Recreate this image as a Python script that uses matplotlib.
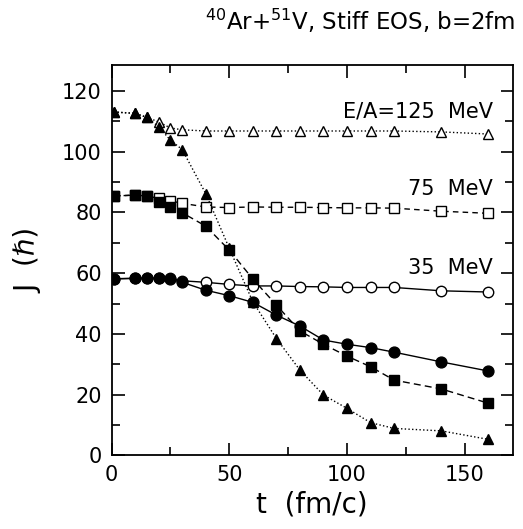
import matplotlib
matplotlib.use("Agg")
import matplotlib.pyplot as plt
from matplotlib.ticker import MultipleLocator

plt.rcParams['font.family'] = ['DejaVu Sans']

t = [1, 10, 15, 20, 25, 30, 40, 50, 60, 70, 80, 90, 100, 110, 120, 140, 160]

# 35 MeV
j35_open = [58.2, 58.3, 58.3, 58.3, 58.3, 57.5, 57.0, 56.3, 55.8, 55.8, 55.6, 55.5, 55.3, 55.3, 55.3, 54.2, 53.8]
j35_fill = [58.1, 58.3, 58.3, 58.3, 58.0, 57.0, 54.4, 52.6, 50.4, 46.2, 42.6, 38.0, 36.6, 35.5, 34.0, 30.8, 27.8]
# 75 MeV
j75_open = [85.4, 85.7, 85.5, 84.6, 83.8, 83.0, 81.8, 81.6, 81.8, 81.7, 81.7, 81.6, 81.5, 81.5, 81.4, 80.4, 79.7]
j75_fill = [85.4, 85.7, 85.4, 83.3, 81.8, 79.9, 75.5, 67.6, 58.1, 49.5, 41.0, 36.6, 32.7, 29.2, 24.8, 21.9, 17.2]
# 125 MeV
j125_open = [113.0, 112.6, 111.3, 109.8, 107.8, 107.2, 106.8, 106.8, 106.8, 106.8, 106.8, 106.8, 106.8, 106.8, 106.8, 106.5, 105.8]
j125_fill = [113.1, 112.6, 111.3, 108.2, 103.8, 100.7, 86.2, 68.2, 50.6, 38.5, 28.1, 19.9, 15.5, 10.8, 8.9, 8.1, 5.3]

labels = ["35  MeV", "75  MeV", "E/A=125  MeV"]
title = r"$^{40}$Ar+$^{51}$V, Stiff EOS, b=2fm"

fig = plt.figure(figsize=(5.23, 5.29), dpi=100)
ax = fig.add_axes([0.2132, 0.139, 0.7678, 0.738])

lw = 1.0
ms = 7.5
# solid 35 MeV
ax.plot(t, j35_open, '-', color='black', lw=lw, marker='o', ms=ms, mfc='white', mec='black', mew=1.0)
ax.plot(t, j35_fill, '-', color='black', lw=lw, marker='o', ms=ms + 0.3, mfc='black', mec='black')
# dashed 75 MeV
ax.plot(t, j75_open, '--', color='black', lw=lw, dashes=(4, 3), marker='s', ms=ms - 0.8, mfc='white', mec='black', mew=1.0)
ax.plot(t, j75_fill, '--', color='black', lw=lw, dashes=(5, 3), marker='s', ms=ms - 0.3, mfc='black', mec='black')
# dotted 125 MeV
ax.plot(t, j125_open, ':', color='black', lw=lw, marker='^', ms=ms - 0.8, mfc='white', mec='black', mew=1.0)
ax.plot(t, j125_fill, ':', color='black', lw=lw, marker='^', ms=ms, mfc='black', mec='black')

ax.set_xlim(0, 170.5)
ax.set_ylim(0, 128.5)
ax.xaxis.set_major_locator(MultipleLocator(50))
ax.xaxis.set_minor_locator(MultipleLocator(25))
ax.yaxis.set_major_locator(MultipleLocator(20))
ax.yaxis.set_minor_locator(MultipleLocator(10))
ax.tick_params(which='both', direction='in', top=True, right=True, width=1.2, labelsize=15)
ax.tick_params(which='major', length=9, pad=7)
ax.tick_params(which='minor', length=6)
for s in ax.spines.values():
    s.set_linewidth(1.3)

ax.set_xlabel("t  (fm/c)", fontsize=20, labelpad=4)
ax.set_ylabel("J  (ℏ)", fontsize=20, labelpad=14)

ax.text(162, 58.5, labels[0], ha='right', va='bottom', fontsize=15)
ax.text(162, 84.3, labels[1], ha='right', va='bottom', fontsize=15)
ax.text(162, 110.0, labels[2], ha='right', va='bottom', fontsize=15)

fig.text(0.985, 0.943, title, ha='right', va='baseline', fontsize=16.5)

fig.savefig("out.png", dpi=100)
